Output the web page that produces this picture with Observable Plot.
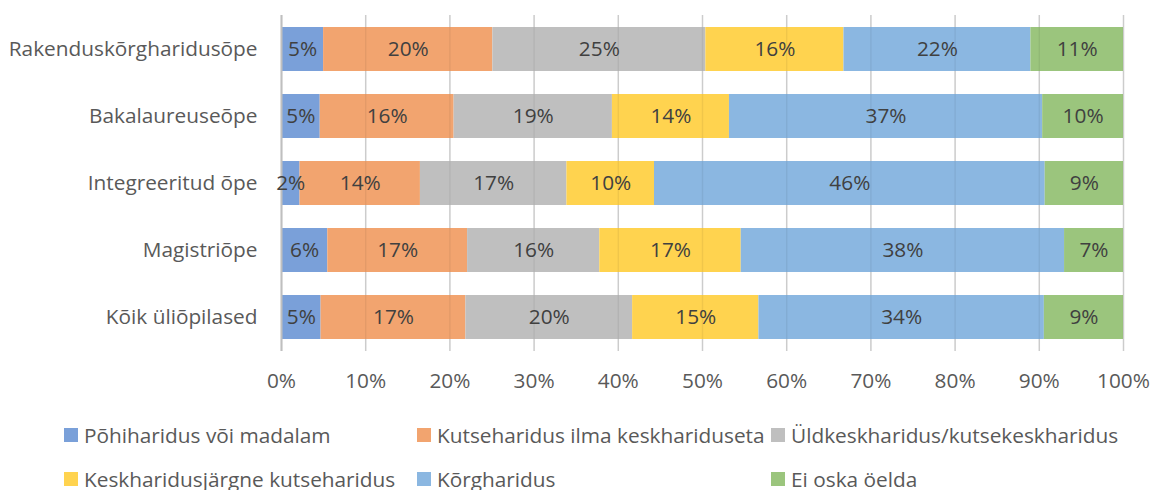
<!DOCTYPE html>
<html>
<head>
<meta charset="utf-8">
<script src="https://cdn.jsdelivr.net/npm/d3@7"></script>
<script src="https://cdn.jsdelivr.net/npm/@observablehq/plot@0.6"></script>
<style>
  html, body { margin: 0; padding: 0; background: #fff; }
  #wrap { position: relative; width: 1152px; height: 490px; overflow: hidden; font-family: "Open Sans", sans-serif; }
  #chart { position: absolute; left: 0; top: 0; }
  .lg { position: absolute; display: flex; align-items: center; font-size: 20.8px; color: #595959; white-space: nowrap; height: 24px; }
  .sw { width: 14px; height: 14px; margin-right: 6px; flex: none; }
</style>
</head>
<body>
<div id="wrap"><div id="chart"></div></div>
<script>
const categories = ["Rakenduskõrgharidusõpe", "Bakalaureuseõpe", "Integreeritud õpe", "Magistriõpe", "Kõik üliõpilased"];
const seriesNames = ["Põhiharidus või madalam", "Kutseharidus ilma keskhariduseta", "Üldkeskharidus/kutsekeskharidus", "Keskharidusjärgne kutseharidus", "Kõrgharidus", "Ei oska öelda"];
const seriesColors = ["#7aa0d9", "#f2a46f", "#bfbfbf", "#ffd34f", "#8bb7e1", "#9bc57d"];

// percentages, one value per category (same order as categories)
const pohiharidus      = [5.0, 4.6, 2.2, 5.5, 4.7];
const kutseIlmaKesk    = [20.1, 15.9, 14.3, 16.6, 17.2];
const yldkesk          = [25.3, 18.8, 17.4, 15.7, 19.8];
const keskJargneKutse  = [16.4, 13.9, 10.4, 16.8, 15.0];
const korgharidus      = [22.2, 37.2, 46.4, 38.4, 33.9];
const eiOska           = [11.0, 9.6, 9.3, 7.0, 9.4];
const xTicks = [0, 10, 20, 30, 40, 50, 60, 70, 80, 90, 100];

const seriesValues = [pohiharidus, kutseIlmaKesk, yldkesk, keskJargneKutse, korgharidus, eiOska];
const table = [];
seriesNames.forEach((s, si) => {
  categories.forEach((c, ci) => {
    table.push({category: c, series: s, value: seriesValues[si][ci]});
  });
});

const order = seriesNames;
const chart = Plot.plot({
  width: 1152,
  height: 400,
  marginLeft: 281,
  marginRight: 29,
  marginTop: 15,
  marginBottom: 49,
  style: { fontFamily: "Open Sans, sans-serif", fontSize: "20.8px", color: "#595959", background: "#fff" },
  x: { domain: [0, 100], ticks: xTicks, tickFormat: d => d + "%", label: null },
  y: { domain: categories, paddingInner: 0.34, paddingOuter: 0.17, label: null },
  color: { domain: seriesNames, range: seriesColors },
  marks: [
    Plot.ruleX(xTicks, { stroke: "#d9d9d9", strokeWidth: 1.5 }),
    Plot.barX(table, Plot.stackX({ x: "value", y: "category", fill: "series", order, inset: 0 })),
    Plot.ruleX(xTicks.slice(1), { stroke: "#000", strokeOpacity: 0.06, strokeWidth: 1.5 }),
    Plot.ruleX([0], { stroke: "#bfbfbf", strokeWidth: 2 }),
    Plot.text(table, Plot.stackX({ x: "value", y: "category", z: "series", order, text: d => Math.round(d.value) + "%", fill: "#404040", fontSize: 20.8 })),
    Plot.axisX({ ticks: xTicks, tickFormat: d => d + "%", tickSize: 0, tickPadding: 22, fill: "#595959", label: null }),
    Plot.axisY({ tickSize: 0, tickPadding: 24, fill: "#595959", label: null })
  ]
});
document.getElementById("chart").appendChild(chart);

// legend
const wrap = document.getElementById("wrap");
const legendPos = [[64, 423], [417, 423], [771, 423], [64, 467], [417, 467], [771, 467]];
seriesNames.forEach((s, i) => {
  const d = document.createElement("div");
  d.className = "lg";
  d.style.left = legendPos[i][0] + "px";
  d.style.top = legendPos[i][1] + "px";
  const sw = document.createElement("span");
  sw.className = "sw";
  sw.style.background = seriesColors[i];
  const t = document.createElement("span");
  t.textContent = s;
  d.appendChild(sw); d.appendChild(t);
  wrap.appendChild(d);
});
</script>
</body>
</html>
